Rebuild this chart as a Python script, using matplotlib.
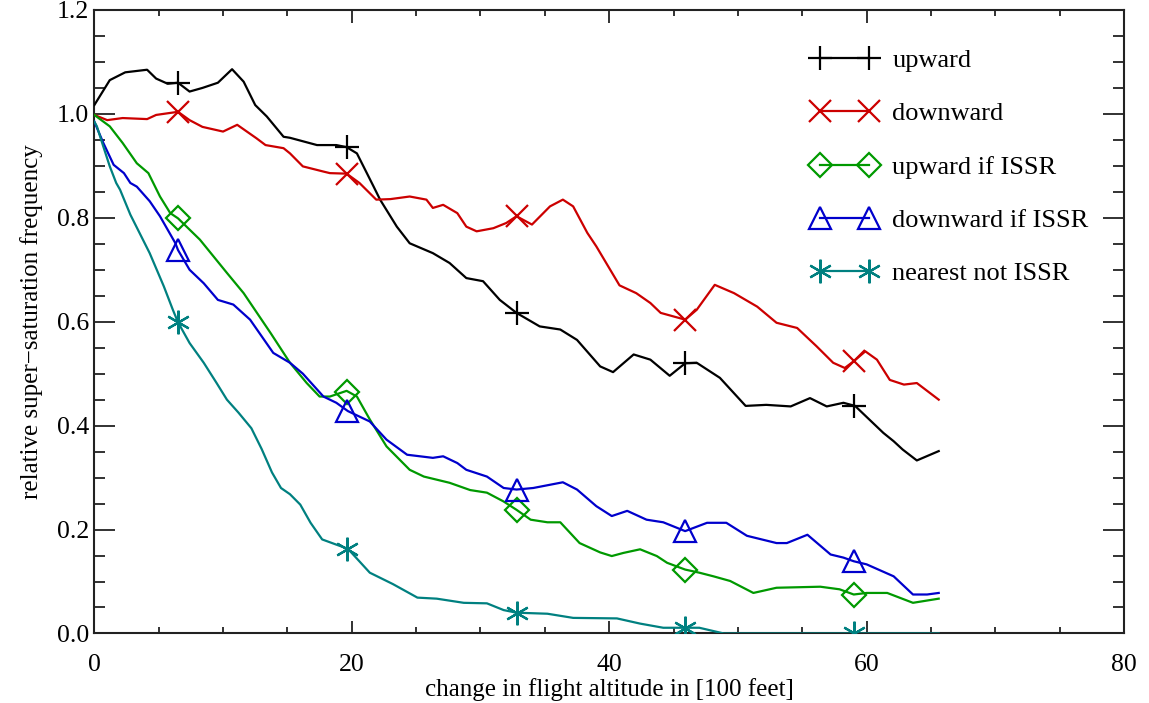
import numpy as np
import matplotlib
matplotlib.use("Agg")
import matplotlib.pyplot as plt
from matplotlib.lines import Line2D
from matplotlib.ticker import MultipleLocator, FormatStrFormatter

plt.rcParams["font.family"] = ["Liberation Serif", "DejaVu Serif"]

# ---------------------------------------------------------------------------
#  Data (x in 100 ft, y = relative frequency)
# ---------------------------------------------------------------------------
up_x = [0.0, 1.2, 2.4, 4.1, 4.8, 5.7, 6.5, 7.4, 8.4, 9.6, 10.7, 11.6, 12.5,
        13.4, 14.7, 15.2, 17.3, 18.8, 19.6, 20.4, 21.7, 22.2, 23.5, 24.5,
        26.3, 27.6, 28.9, 30.2, 31.5, 32.8, 34.6, 36.2, 37.5, 39.3, 40.3,
        41.9, 43.2, 44.7, 45.9, 46.8, 48.6, 50.6, 52.2, 54.1, 55.6, 56.9,
        58.2, 59.1, 61.3, 62.1, 62.8, 63.9, 65.6]
up_y = [1.017, 1.065, 1.080, 1.085, 1.068, 1.058, 1.060, 1.043, 1.050, 1.060,
        1.086, 1.062, 1.017, 0.995, 0.956, 0.954, 0.940, 0.940, 0.936, 0.924,
        0.860, 0.835, 0.783, 0.751, 0.732, 0.713, 0.684, 0.678, 0.642, 0.617,
        0.591, 0.585, 0.565, 0.514, 0.503, 0.537, 0.527, 0.496, 0.520, 0.521,
        0.492, 0.438, 0.440, 0.437, 0.453, 0.437, 0.444, 0.438, 0.386, 0.370,
        0.354, 0.333, 0.351]

down_x = [0.0, 1.0, 2.2, 4.1, 4.8, 6.5, 7.4, 8.4, 10.0, 11.1, 12.6, 13.3,
          14.7, 15.2, 16.2, 17.8, 18.3, 19.6, 20.6, 21.9, 23.0, 24.5, 25.8,
          26.3, 27.1, 28.2, 28.9, 29.7, 31.0, 32.0, 32.8, 34.0, 35.4, 36.4,
          37.2, 38.3, 39.0, 40.8, 42.1, 43.2, 44.0, 45.9, 46.8, 48.2, 49.7,
          51.5, 53.0, 54.6, 56.1, 57.4, 58.3, 59.0, 59.9, 60.8, 61.8, 62.9,
          63.9, 65.6]
down_y = [0.998, 0.988, 0.992, 0.990, 0.998, 1.004, 0.988, 0.975, 0.966,
          0.979, 0.953, 0.940, 0.934, 0.924, 0.899, 0.889, 0.886, 0.885,
          0.867, 0.835, 0.836, 0.841, 0.835, 0.819, 0.825, 0.809, 0.783,
          0.774, 0.780, 0.790, 0.803, 0.787, 0.822, 0.835, 0.822, 0.771,
          0.745, 0.670, 0.655, 0.636, 0.617, 0.604, 0.623, 0.671, 0.655,
          0.629, 0.598, 0.588, 0.553, 0.521, 0.511, 0.524, 0.543, 0.527,
          0.488, 0.479, 0.482, 0.450]

upi_x = [0.0, 1.2, 2.2, 3.3, 4.2, 5.1, 5.9, 6.5, 8.2, 10.3, 11.6, 13.7, 15.2,
         16.5, 17.5, 18.3, 19.6, 20.4, 21.4, 22.7, 24.5, 25.6, 27.6, 29.2,
         30.5, 31.8, 32.8, 33.9, 35.2, 36.2, 37.7, 39.3, 40.2, 41.1, 42.4,
         43.7, 44.5, 45.9, 47.0, 48.1, 49.4, 51.2, 53.0, 56.4, 57.9, 59.0,
         60.0, 61.6, 63.6, 65.6]
upi_y = [0.998, 0.976, 0.944, 0.905, 0.886, 0.841, 0.809, 0.799, 0.758, 0.694,
         0.655, 0.578, 0.521, 0.482, 0.456, 0.456, 0.467, 0.456, 0.412, 0.360,
         0.315, 0.302, 0.290, 0.276, 0.271, 0.254, 0.238, 0.219, 0.214, 0.214,
         0.174, 0.156, 0.149, 0.155, 0.162, 0.149, 0.136, 0.123, 0.117, 0.110,
         0.101, 0.078, 0.088, 0.090, 0.085, 0.075, 0.078, 0.078, 0.059, 0.067]

downi_x = [0.0, 0.7, 1.5, 2.3, 2.8, 3.3, 4.3, 5.1, 5.4, 6.3, 6.5, 7.4, 8.5,
           9.6, 10.8, 12.1, 13.9, 15.2, 16.2, 17.8, 18.8, 19.7, 21.4, 22.7,
           24.3, 26.3, 27.1, 28.2, 28.9, 30.5, 31.8, 32.8, 34.1, 36.4, 37.5,
           39.0, 40.2, 41.4, 42.9, 44.2, 45.9, 47.6, 49.1, 50.7, 53.0, 53.8,
           55.4, 57.2, 58.2, 59.0, 60.0, 62.1, 63.6, 64.7, 65.6]
downi_y = [0.985, 0.944, 0.902, 0.886, 0.867, 0.860, 0.832, 0.803, 0.790,
           0.751, 0.738, 0.700, 0.674, 0.642, 0.633, 0.604, 0.540, 0.521,
           0.500, 0.456, 0.444, 0.428, 0.408, 0.373, 0.344, 0.338, 0.341,
           0.328, 0.315, 0.302, 0.280, 0.277, 0.280, 0.291, 0.277, 0.245,
           0.226, 0.236, 0.219, 0.214, 0.197, 0.213, 0.213, 0.188, 0.174,
           0.174, 0.190, 0.152, 0.146, 0.139, 0.133, 0.110, 0.075, 0.075,
           0.078]

near_x = [0.0, 0.2, 0.7, 1.2, 1.7, 2.0, 2.8, 4.3, 5.4, 6.1, 6.5, 7.4, 8.5,
          9.5, 10.3, 11.2, 12.2, 13.0, 13.8, 14.5, 15.2, 16.0, 16.8, 17.7,
          18.8, 19.7, 21.4, 23.2, 25.1, 26.6, 28.7, 30.5, 31.8, 32.8, 35.2,
          37.2, 40.6, 42.4, 44.2, 47.0, 48.9, 65.6]
near_y = [0.985, 0.976, 0.937, 0.899, 0.867, 0.854, 0.806, 0.732, 0.668,
          0.623, 0.599, 0.559, 0.521, 0.482, 0.450, 0.425, 0.395, 0.355,
          0.310, 0.280, 0.268, 0.248, 0.213, 0.181, 0.171, 0.163, 0.117,
          0.095, 0.069, 0.067, 0.059, 0.058, 0.045, 0.040, 0.038, 0.030,
          0.029, 0.019, 0.011, 0.011, 0.000, 0.000]

# marker positions (every 13th step of the original series)
mark_x = [6.5, 19.6, 32.8, 45.9, 59.0]
up_m = [1.060, 0.936, 0.617, 0.520, 0.438]
down_m = [1.004, 0.885, 0.803, 0.604, 0.524]
upi_m = [0.799, 0.465, 0.238, 0.123, 0.075]
downi_m = [0.738, 0.428, 0.277, 0.197, 0.139]
near_m = [0.599, 0.163, 0.040, 0.011, 0.000]

labels = ["upward", "downward", "upward if ISSR", "downward if ISSR",
          "nearest not ISSR"]
colors = ["#000000", "#cc0000", "#009900", "#0000cc", "#008080"]
markers = ["+", "x", "D", "^", (6, 2, 0)]
msizes = [17, 16, 12, 16, 17]

series = [(up_x, up_y, up_m), (down_x, down_y, down_m),
          (upi_x, upi_y, upi_m), (downi_x, downi_y, downi_m),
          (near_x, near_y, near_m)]

# ---------------------------------------------------------------------------
#  Plot
# ---------------------------------------------------------------------------
fig = plt.figure(figsize=(11.49, 7.03), dpi=100)
ax = fig.add_axes([0.0821, 0.0989, 0.9783 - 0.0821, 0.9858 - 0.0989])

handles = []
for (xs, ys, ms), lab, c, mk, sz in zip(series, labels, colors, markers, msizes):
    ax.plot(xs, ys, color=c, linewidth=1.6, zorder=3)
    ax.plot(mark_x, ms, linestyle="none", marker=mk, markersize=sz,
            markeredgewidth=1.6, markerfacecolor="none", markeredgecolor=c,
            zorder=4)
    handles.append(Line2D([], [], color=c, linewidth=1.6, marker=mk,
                          markersize=sz, markeredgewidth=1.6,
                          markerfacecolor="none", markeredgecolor=c))

ax.set_xlim(0, 80)
ax.set_ylim(0, 1.2)
ax.xaxis.set_major_locator(MultipleLocator(20))
ax.xaxis.set_minor_locator(MultipleLocator(5))
ax.yaxis.set_major_locator(MultipleLocator(0.2))
ax.yaxis.set_minor_locator(MultipleLocator(0.05))
ax.yaxis.set_major_formatter(FormatStrFormatter("%.1f"))

ax.tick_params(which="both", direction="in", top=True, right=True,
               labelsize=18.5, width=1.3, color="#222222")
ax.tick_params(axis="x", which="major", length=9, pad=14.5)
ax.tick_params(axis="x", which="minor", length=4.5)
ax.tick_params(axis="y", which="major", length=15, pad=4)
ax.tick_params(axis="y", which="minor", length=8)
for sp in ax.spines.values():
    sp.set_linewidth(1.5)
    sp.set_color("#222222")

ax.set_xlabel("change in flight altitude in [100 feet]", fontsize=18,
              labelpad=2)
ax.set_ylabel("relative super\u2212saturation frequency", fontsize=18,
              labelpad=10)

leg = ax.legend(handles, labels, loc="upper left",
                bbox_to_anchor=(0.7067, 0.9307), bbox_transform=fig.transFigure,
                frameon=False, numpoints=2, fontsize=19, handlelength=2.45,
                handletextpad=0.6, labelspacing=1.13, borderpad=0,
                borderaxespad=0)

fig.savefig("out.png", dpi=100)
